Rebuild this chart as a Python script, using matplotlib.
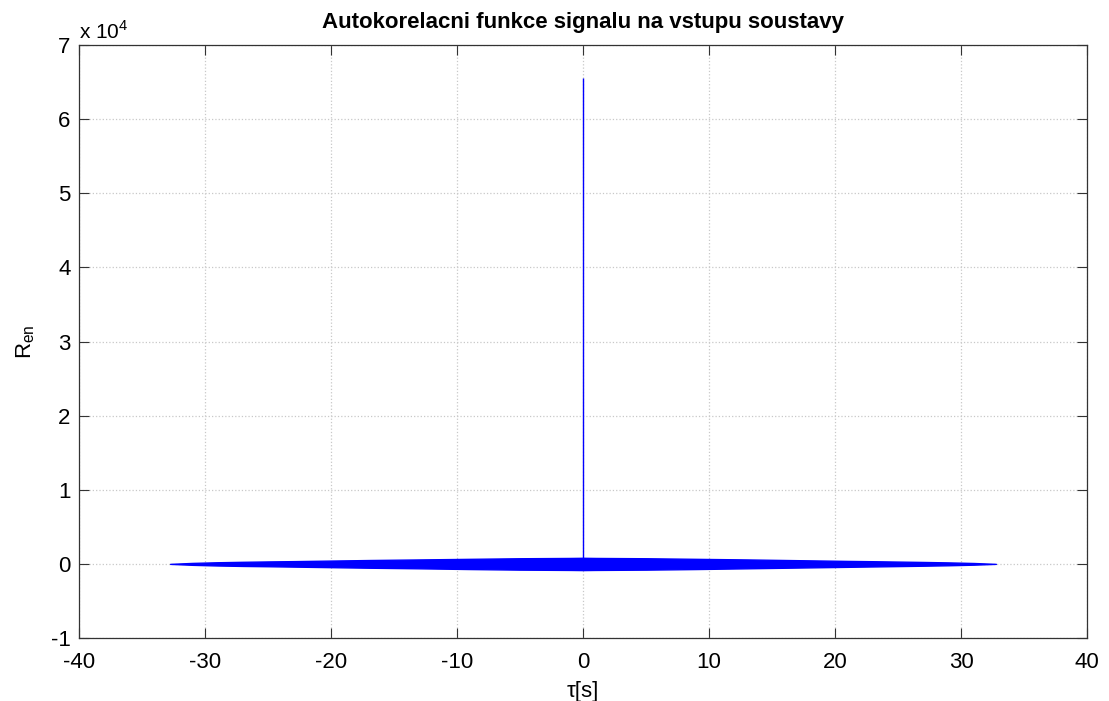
import matplotlib.pyplot as plt
import numpy as np

plt.rcParams['font.family'] = ['Liberation Sans', 'DejaVu Sans']

# Envelope of the noise band (tau in s, R in raw units)
env_tau = [-32.77, -31, -29, -27, -25, -23, -21, -19, -17, -15, -13, -11, -9, -7, -5, -3, -1, -0.05,
           0.05, 1, 3, 5, 7, 9, 11, 13, 15, 17, 19, 21, 23, 25, 27, 29, 31, 32.77]
env_upper = [0, 130, 220, 280, 330, 370, 420, 470, 520, 560, 600, 640, 680, 720, 760, 780, 800, 820,
             820, 800, 780, 760, 720, 680, 640, 600, 550, 500, 450, 400, 360, 310, 260, 200, 120, 0]
env_lower = [0, -130, -220, -280, -320, -370, -420, -470, -520, -560, -600, -650, -700, -740, -780, -800, -820, -840,
             -840, -820, -800, -780, -740, -700, -650, -600, -550, -500, -450, -400, -350, -300, -250, -190, -110, 0]

peak_tau = 0.0
peak_value = 65536

xticks = [-40, -30, -20, -10, 0, 10, 20, 30, 40]
yticks = [-1, 0, 1, 2, 3, 4, 5, 6, 7]

fig = plt.figure(figsize=(11.09, 7.01), dpi=100)
ax = fig.add_axes([79 / 1109, 63 / 701, 1008 / 1109, 593 / 701])

ax.fill_between(env_tau, env_lower, env_upper, color='#0000FF', linewidth=1.0, edgecolor='#0000FF', zorder=3)
ax.vlines(peak_tau, 0, peak_value, color='#0000FF', linewidth=1.0, zorder=3)

ax.set_xlim(-40, 40)
ax.set_ylim(-1e4, 7e4)
ax.set_xticks(xticks)
ax.set_xticklabels([str(t) for t in xticks])
ax.set_yticks([t * 1e4 for t in yticks])
ax.set_yticklabels([str(t) for t in yticks])

ax.grid(True, linestyle=':', color='#C8C8C8', linewidth=0.9)
ax.tick_params(direction='in', length=7, width=0.8, colors='#333333', labelcolor='black',
               labelsize=16, top=True, right=True, pad=6)
ax.tick_params(axis='x', pad=10)
for s in ax.spines.values():
    s.set_color('#333333')
    s.set_linewidth(0.9)

ax.set_title('Autokorelacni funkce signalu na vstupu soustavy', fontsize=16, fontweight='bold', pad=12)
ax.set_xlabel('τ[s]', fontsize=16, labelpad=6)
ax.set_ylabel(r'R$_{\mathregular{en}}$', fontsize=16, labelpad=10)
ax.text(0.0, 1.003, r'x 10$^{\mathregular{4}}$', transform=ax.transAxes, fontsize=15, ha='left', va='bottom')

fig.savefig('out.png', dpi=100)
